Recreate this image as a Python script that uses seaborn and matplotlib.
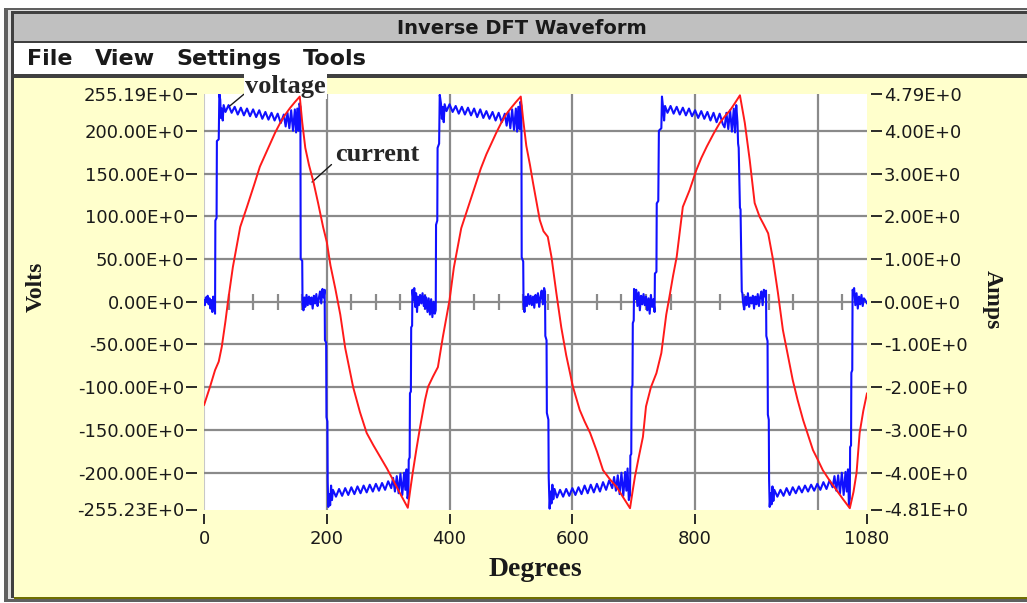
import numpy as np
import pandas as pd
import seaborn as sns
import matplotlib
matplotlib.use("Agg")
import matplotlib.pyplot as plt
from matplotlib.patches import Rectangle
import matplotlib.transforms as mtrans

# ---------------- data ----------------
# Voltage, cycle 1 (degrees, volts)
v1_deg = [0, 1.5, 3, 4.5, 6, 7.5, 9, 10.5, 12, 13.5, 15, 16.5, 18,
          18.5, 20.5, 21, 24, 25, 26.5, 27.5, 29, 30.5, 32,
          35, 40, 45, 50, 55, 60, 65, 70, 75, 80, 85, 90, 95, 100, 105, 110, 115, 120, 125, 130,
          133, 136, 139, 142, 145, 148, 150, 152, 154, 155.5, 157,
          157.5, 160, 160.5,
          162, 163.5, 165, 167, 169, 171, 173, 175, 177, 179, 181, 183, 185, 187, 189, 191, 193, 195, 196.5,
          197, 199, 199.5, 201, 201.5, 202.5, 204, 205.5, 207, 208.5, 210,
          215, 220, 225, 230, 235, 240, 245, 250, 255, 260, 265, 270, 275, 280, 285, 290, 295, 300, 305,
          308, 311, 314, 317, 320, 323, 326, 328, 330, 331.5, 333,
          333.5, 335, 335.5, 337, 337.5, 339, 339.5,
          341, 342.5, 344, 345.5, 347, 348.5, 350, 352, 354, 356, 358, 360]
v1_val = [2, -4, 5, 0, 7, -3, 4, -8, 2, -12, 6, -3, -14,
          95, 98, 188, 190, 243, 236, 215, 226, 212, 230,
          222, 230, 221, 228, 219, 227, 218, 226, 217, 225, 216, 224, 214, 222, 213, 221, 212, 220, 209, 219,
          205, 221, 203, 224, 200, 225, 198, 226, 200, 232, 228,
          50, 48, -2,
          -10, 5, -6, 8, -4, 6, -3, 5, -8, 7, -2, 9, -5, 4, 12, -2, 15, 5, 14,
          -45, -48, -135, -140, -210, -240, -225, -238, -215, -232, -220,
          -228, -219, -227, -218, -226, -217, -225, -216, -224, -215, -223, -214, -222, -213, -221, -212, -220, -210, -218,
          -206, -222, -204, -224, -201, -226, -200, -220, -196, -230, -225,
          -185, -182, -107, -105, -30, -28, 14,
          2, 16, -6, 10, -12, 6, -4, 8, -2, 10, -5, 7]

# Voltage, cycle 2
v2_deg = [360, 362, 364, 366, 368, 370, 372, 374, 376, 377.5,
          378, 380, 380.5, 383, 384, 386, 387.5, 389, 390.5, 392,
          395, 400, 405, 410, 415, 420, 425, 430, 435, 440, 445, 450, 455, 460, 465, 470, 475, 480, 485, 490,
          493, 496, 499, 502, 505, 508, 510, 512, 514, 515.5, 517,
          517.5, 520, 520.5,
          522, 524, 526, 528, 530, 532, 534, 536, 538, 540, 542, 544, 546, 548, 550, 552, 554, 555.5,
          556, 558, 558.5, 561, 561.5, 563, 564.5, 566, 567.5, 569, 571,
          575, 580, 585, 590, 595, 600, 605, 610, 615, 620, 625, 630, 635, 640, 645, 650, 655, 660, 665,
          668, 671, 674, 677, 680, 683, 686, 688, 690, 692, 694,
          694.5, 696, 696.5, 698, 698.5, 700, 700.5,
          702, 704, 706, 708, 710, 712, 714, 716, 718, 720]
v2_val = [-8, 5, -12, 4, -15, 3, -18, 0, -14, -10,
          90, 95, 180, 185, 242, 232, 214, 228, 210, 231,
          223, 231, 222, 229, 220, 228, 219, 227, 218, 226, 216, 225, 215, 223, 214, 222, 212, 221, 210, 220,
          206, 222, 203, 225, 201, 226, 199, 228, 202, 234, 229,
          52, 47, -3,
          -12, 6, -5, 9, -3, 7, -4, 6, -7, 8, -1, 10, -6, 5, 13, -3, 16, 12,
          -40, -45, -130, -138, -205, -242, -222, -236, -214, -231, -219,
          -229, -220, -228, -219, -227, -218, -226, -217, -225, -215, -224, -214, -223, -213, -222, -211, -220, -209, -218,
          -205, -221, -203, -225, -200, -227, -199, -221, -195, -232, -226,
          -180, -178, -100, -98, -25, -22, 15,
          3, 14, -5, 11, -10, 7, -3, 9, -4, 6]

# Voltage, cycle 3
v3_deg = [720, 722, 724, 726, 728, 730, 732, 734,
          734.5, 737, 737.5, 740, 741, 745, 746, 748, 749.5, 751,
          755, 760, 765, 770, 775, 780, 785, 790, 795, 800, 805, 810, 815, 820, 825, 830, 835, 840, 845,
          848, 851, 854, 857, 860, 863, 865, 867, 869, 870,
          871, 873, 874, 876, 877, 878,
          880, 882, 884, 886, 888, 890, 892, 894, 896, 898, 900, 902, 904, 906, 908, 910, 912, 914, 915.5,
          916, 918, 918.5, 920, 920.5, 921.5, 923, 924.5, 926, 927.5, 929,
          934, 939, 944, 949, 954, 959, 964, 969, 974, 979, 984, 989, 994, 999, 1004, 1009, 1014, 1019, 1024,
          1027, 1030, 1033, 1036, 1039, 1042, 1045, 1047, 1049, 1050.5, 1052,
          1052.5, 1054, 1054.5, 1056, 1056.5, 1058, 1059,
          1061, 1063, 1065, 1067, 1069, 1071, 1073, 1075, 1077, 1080]
v3_val = [6, -10, 4, -14, 8, -6, 3, -12,
          33, 35, 115, 118, 200, 203, 240, 226, 212, 229,
          221, 229, 220, 228, 219, 227, 218, 226, 217, 224, 215, 223, 214, 222, 212, 221, 210, 220, 208,
          204, 221, 202, 224, 199, 226, 198, 230, 210, 185,
          180, 110, 108, 12, 10, 0,
          -9, 6, -4, 10, -6, 5, -2, 7, -8, 6, -3, 9, -5, 6, 12, -4, 14, 6, 13,
          -40, -46, -132, -138, -208, -240, -224, -237, -216, -233, -220,
          -228, -220, -227, -218, -226, -217, -224, -216, -223, -215, -222, -214, -221, -213, -220, -211, -219, -209, -217,
          -204, -221, -203, -224, -200, -226, -199, -222, -196, -238, -230,
          -170, -168, -83, -80, 14, 12, 16,
          -4, 10, -8, 6, -3, 8, -5, 4, 2, -2]

# Current, per cycle (degrees, amps)
c1_deg = [0, 5, 10, 18, 24, 29, 35, 39, 47, 59, 70, 82, 91, 100, 108, 116, 124, 132, 140, 148,
          156, 160, 165, 171, 178, 186, 194, 200, 206, 214, 222, 230, 243, 254, 265, 276, 287, 298, 308, 320,
          332, 336, 340, 346, 352, 360]
c1_val = [-2.42, -2.2, -1.98, -1.6, -1.4, -1.05, -0.45, 0.0, 0.81, 1.75, 2.22, 2.75, 3.16, 3.45, 3.71, 3.96, 4.18, 4.37, 4.53, 4.67,
          4.80, 4.2, 3.6, 3.2, 2.82, 2.3, 1.75, 1.4, 0.85, 0.3, -0.3, -1.08, -2.0, -2.58, -3.07, -3.36, -3.63, -3.9, -4.17, -4.5,
          -4.82, -4.4, -4.0, -3.45, -2.93, -2.3]
c2_deg = [360, 365, 373, 381, 389, 395, 400, 407, 419, 430, 442, 451, 460, 468, 476, 484, 492, 500, 508, 516,
          520, 525, 531, 536, 542, 547, 553, 560, 566, 574, 582, 590, 601, 612, 620, 629, 640, 650, 661, 672,
          683, 694, 698, 702, 708, 715, 720]
c2_val = [-2.3, -1.99, -1.75, -1.53, -0.83, -0.35, 0.04, 0.8, 1.72, 2.2, 2.72, 3.12, 3.45, 3.7, 3.95, 4.18, 4.38, 4.53, 4.67, 4.80,
          4.25, 3.65, 3.2, 2.78, 2.3, 1.91, 1.65, 1.52, 1.05, 0.2, -0.6, -1.25, -1.99, -2.53, -2.8, -3.07, -3.5, -3.94, -4.15, -4.33,
          -4.58, -4.83, -4.45, -4.09, -3.65, -3.16, -2.45]
c3_deg = [720, 728, 737, 745, 753, 758, 764, 770, 780, 791, 802, 810, 819, 830, 840, 848, 857, 865, 873, 877,
          881, 889, 897, 905, 912, 919, 927, 935, 943, 951, 959, 967, 976, 984, 992, 1000, 1008, 1019, 1030, 1041,
          1052, 1058, 1063, 1068, 1074, 1080]
c3_val = [-2.45, -2.0, -1.67, -1.2, -0.3, 0.1, 0.6, 1.05, 2.22, 2.61, 3.08, 3.36, 3.63, 3.93, 4.18, 4.33, 4.48, 4.65, 4.83, 4.5,
          4.18, 3.31, 2.31, 1.99, 1.8, 1.6, 0.98, 0.2, -0.66, -1.25, -1.83, -2.3, -2.77, -3.12, -3.47, -3.7, -3.94, -4.18, -4.4, -4.62,
          -4.83, -4.45, -4.0, -3.07, -2.55, -2.14]

# Axes ticks / labels
x_ticks = [0, 200, 400, 600, 800, 1080]
x_labels = ["0", "200", "400", "600", "800", "1080"]
x_grid = [200, 400, 600, 800, 1000]
zero_marks = [40, 80, 120, 160, 240, 280, 320, 360, 440, 480, 520, 560, 640, 680, 720, 760, 840, 880, 920, 960, 1040]
volt_lim = (-243, 243)
volt_ticks = [-243, -200, -150, -100, -50, 0, 50, 100, 150, 200, 243]
volt_labels = ["-255.23E+0", "-200.00E+0", "-150.00E+0", "-100.00E+0", "-50.00E+0", "0.00E+0",
               "50.00E+0", "100.00E+0", "150.00E+0", "200.00E+0", "255.19E+0"]
volt_grid = [-200, -150, -100, -50, 0, 50, 100, 150, 200]
amp_lim = (-4.86, 4.86)
amp_ticks = [-4.86, -4, -3, -2, -1, 0, 1, 2, 3, 4, 4.86]
amp_labels = ["-4.81E+0", "-4.00E+0", "-3.00E+0", "-2.00E+0", "-1.00E+0", "0.00E+0",
              "1.00E+0", "2.00E+0", "3.00E+0", "4.00E+0", "4.79E+0"]

volt_df = pd.DataFrame({"deg": v1_deg + v2_deg + v3_deg, "volts": v1_val + v2_val + v3_val})
amp_df = pd.DataFrame({"deg": c1_deg + c2_deg + c3_deg, "amps": c1_val + c2_val + c3_val})

# ---------------- figure ----------------
sns.set_theme(style="white")
plt.rcParams['font.family'] = ['DejaVu Sans']

W, H = 1027, 603
fig = plt.figure(figsize=(W / 100, H / 100), dpi=100, facecolor="white")
PX = mtrans.Affine2D().scale(1 / W, -1 / H).translate(0, 1) + fig.transFigure


def rect(x0, y0, x1, y1, color, z=-10):
    fig.add_artist(Rectangle((x0, y0), x1 - x0, y1 - y0, transform=PX,
                             facecolor=color, edgecolor="none", zorder=z))


YELLOW = "#FFFFCC"
TXT = "#1A1A1A"
# window chrome
rect(4, 8, W, 602, "#606060", -12)
rect(8, 10, W, 599, "#E0E0E0", -11.5)
rect(11, 11, W, 598, "#404040", -11)
rect(14, 14, W, 41, "#C0C0C0")
rect(14, 43, W, 74, "white")
rect(14, 78, W, 597, YELLOW)
rect(14, 597, W, 599, "#707000", -9)
fig.text(522 / W, 1 - 29 / H, "Inverse DFT Waveform", ha="center", va="center",
         fontsize=14, fontweight="bold", family=["DejaVu Sans"], color=TXT)
for word, x in [("File", 27), ("View", 95), ("Settings", 176), ("Tools", 303)]:
    fig.text(x / W, 1 - 59 / H, word, ha="left", va="center", fontsize=16,
             fontweight="bold", family=["DejaVu Sans"], color=TXT)

ax = fig.add_axes([204 / W, 1 - 509.5 / H, (867 - 204) / W, (509.5 - 94) / H])
ax.set_facecolor("white")
ax.set_xlim(0, 1080)
ax.set_ylim(*volt_lim)

GRID = "#8A8A8A"
ax.axvline(0, color="#C8C8C8", lw=1.5, zorder=1)
for gx in x_grid:
    ax.axvline(gx, color=GRID, lw=1.6, zorder=1)
for gy in volt_grid:
    ax.axhline(gy, color=GRID, lw=1.6, zorder=1)
ax.plot(zero_marks, [0] * len(zero_marks), ls="none", marker="|", ms=12, mew=1.6,
        color=GRID, zorder=1)

sns.lineplot(data=volt_df, x="deg", y="volts", sort=False, estimator=None, ax=ax,
             color="#1010FF", linewidth=1.5, zorder=3)

ax2 = ax.twinx()
ax2.set_ylim(*amp_lim)
sns.lineplot(data=amp_df, x="deg", y="amps", sort=False, estimator=None, ax=ax2,
             color="#FF1A1A", linewidth=1.4, zorder=3)
ax2.set_xlim(0, 1080)

for a in (ax, ax2):
    for s in a.spines.values():
        s.set_visible(False)

ax.set_xticks(x_ticks)
ax.set_xticklabels(x_labels)
ax.set_yticks(volt_ticks)
ax.set_yticklabels(volt_labels)
ax2.set_yticks(amp_ticks)
ax2.set_yticklabels(amp_labels)

ax.spines["bottom"].set_position(("outward", 3))
ax.spines["left"].set_position(("outward", 5))
ax2.spines["right"].set_position(("outward", 3))
ax.tick_params(axis="x", direction="out", length=7, width=1.3, color=TXT,
               labelsize=13, pad=5, labelcolor=TXT, bottom=True)
ax.tick_params(axis="y", direction="out", length=8, width=1.3, color=TXT,
               labelsize=13, pad=1, labelcolor=TXT, left=True)
ax2.tick_params(axis="y", direction="out", length=8, width=1.3, color=TXT,
                labelsize=13, pad=1, labelcolor=TXT, right=True)
ax.set_xlabel("")
ax.set_ylabel("")
ax2.set_ylabel("")

serif = ["Liberation Serif", "DejaVu Serif"]
fig.text(535 / W, 1 - 569 / H, "Degrees", ha="center", va="center", fontsize=20,
         fontweight="bold", family=serif, color=TXT)
fig.text(36 / W, 1 - 287 / H, "Volts", ha="center", va="center", fontsize=17,
         fontweight="bold", family=serif, rotation=90, color=TXT)
fig.text(992 / W, 1 - 300 / H, "Amps", ha="center", va="center", fontsize=17,
         fontweight="bold", family=serif, rotation=270, color=TXT)

ax.annotate("voltage", xy=(42, 229), xytext=(67, 252), ha="left", va="center",
            fontsize=19, fontweight="bold", family=serif, annotation_clip=False,
            bbox=dict(boxstyle="square,pad=0.05", fc="white", ec="none"),
            arrowprops=dict(arrowstyle="-", color=TXT, lw=1.0, relpos=(0, 0.2),
                            shrinkA=0, shrinkB=0), zorder=6)
ax.annotate("current", xy=(176, 140), xytext=(213, 172), ha="left", va="center",
            fontsize=19, fontweight="bold", family=serif, annotation_clip=False,
            arrowprops=dict(arrowstyle="-", color=TXT, lw=1.0, relpos=(0, 0.2),
                            shrinkA=0, shrinkB=0), zorder=6)

fig.savefig("out.png", dpi=100, facecolor="white")
